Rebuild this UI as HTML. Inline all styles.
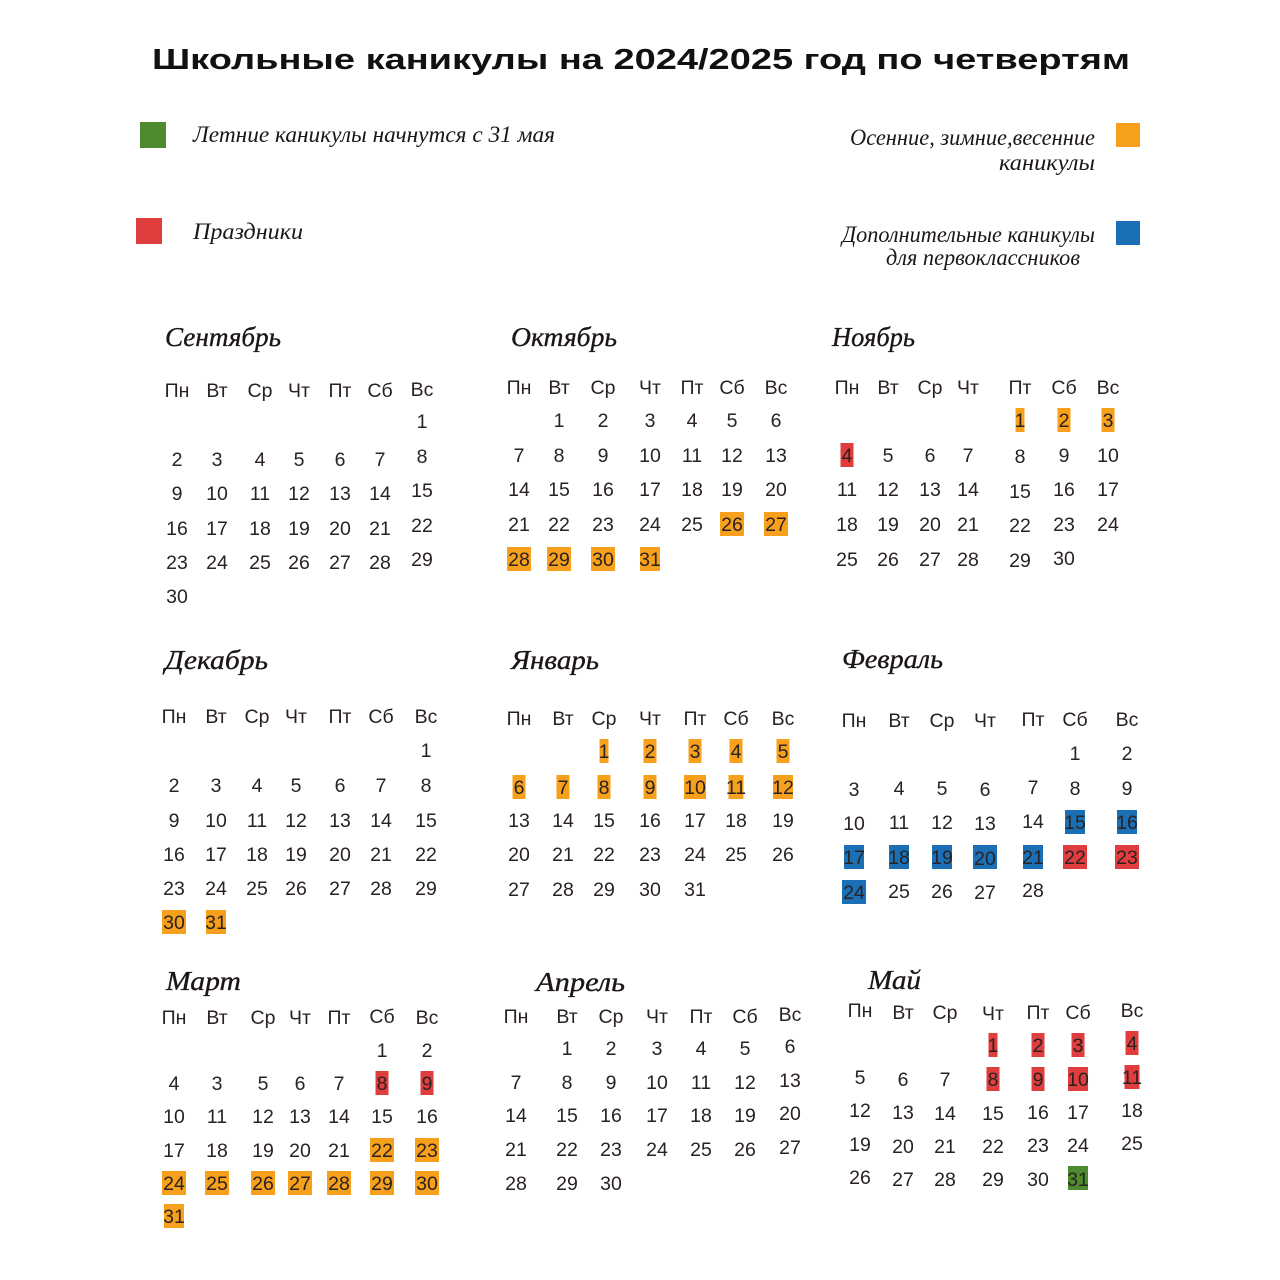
<!DOCTYPE html>
<html><head><meta charset="utf-8"><style>
html,body{margin:0;padding:0;background:#fff;}
svg{display:block;}
.t{font-family:"Liberation Sans","DejaVu Sans",sans-serif;font-size:19.5px;fill:#2a2222;text-anchor:middle;}
.m{font-family:"Liberation Serif","DejaVu Serif",serif;font-style:italic;font-size:27px;fill:#1c1616;stroke:#1c1616;stroke-width:0.35;}
.l{font-family:"Liberation Serif","DejaVu Serif",serif;font-style:italic;font-size:23px;fill:#1c1616;}
.ti{font-family:"Liberation Sans","DejaVu Sans",sans-serif;font-weight:bold;font-size:29px;fill:#111;}
.o{fill:#F7A01C}.r{fill:#E03E3E}.b{fill:#1A6FB5}.g{fill:#4E8A2E}
</style></head><body>
<svg width="1280" height="1280" viewBox="0 0 1280 1280" xmlns="http://www.w3.org/2000/svg">
<rect width="1280" height="1280" fill="#fff"/>
<text class="ti" x="152" y="69" textLength="978" lengthAdjust="spacingAndGlyphs">Школьные каникулы на 2024/2025 год по четвертям</text>

<!-- legend -->
<rect class="g" x="140" y="122" width="26" height="26"/>
<text class="l" x="193" y="142" textLength="362" lengthAdjust="spacingAndGlyphs">Летние каникулы начнутся с 31 мая</text>
<rect class="r" x="136" y="218" width="26" height="26"/>
<text class="l" x="193" y="239" textLength="110" lengthAdjust="spacingAndGlyphs">Праздники</text>
<rect class="o" x="1116" y="123" width="24" height="24"/>
<text class="l" x="850" y="145" textLength="245" lengthAdjust="spacingAndGlyphs">Осенние, зимние,весенние</text>
<text class="l" x="999" y="170" textLength="96" lengthAdjust="spacingAndGlyphs">каникулы</text>
<rect class="b" x="1116" y="221" width="24" height="24"/>
<text class="l" x="842" y="242" textLength="253" lengthAdjust="spacingAndGlyphs">Дополнительные каникулы</text>
<text class="l" x="886" y="265" textLength="194" lengthAdjust="spacingAndGlyphs">для первоклассников</text>

<!-- month names -->
<text class="m" x="165" y="346" textLength="116" lengthAdjust="spacingAndGlyphs">Сентябрь</text>
<text class="m" x="511" y="346" textLength="106" lengthAdjust="spacingAndGlyphs">Октябрь</text>
<text class="m" x="832" y="346" textLength="83" lengthAdjust="spacingAndGlyphs">Ноябрь</text>
<text class="m" x="165" y="669" textLength="103" lengthAdjust="spacingAndGlyphs">Декабрь</text>
<text class="m" x="511" y="669" textLength="88" lengthAdjust="spacingAndGlyphs">Январь</text>
<text class="m" x="842" y="668" textLength="101" lengthAdjust="spacingAndGlyphs">Февраль</text>
<text class="m" x="166" y="990" textLength="75" lengthAdjust="spacingAndGlyphs">Март</text>
<text class="m" x="536" y="991" textLength="89" lengthAdjust="spacingAndGlyphs">Апрель</text>
<text class="m" x="868" y="989" textLength="53" lengthAdjust="spacingAndGlyphs">Май</text>

<!-- highlight boxes -->
<!-- Oct -->
<rect class="o" x="720" y="512" width="24" height="24"/>
<rect class="o" x="764" y="512" width="24" height="24"/>
<rect class="o" x="507" y="547" width="24" height="24"/>
<rect class="o" x="547" y="547" width="24" height="24"/>
<rect class="o" x="591" y="547" width="24" height="24"/>
<rect class="o" x="640" y="547" width="20" height="24"/>
<!-- Nov -->
<rect class="o" x="1015.5" y="408" width="9" height="24"/>
<rect class="o" x="1057.5" y="408" width="13" height="24"/>
<rect class="o" x="1101.5" y="408" width="13" height="24"/>
<rect class="r" x="840.5" y="443" width="13" height="24"/>
<!-- Dec -->
<rect class="o" x="162" y="910" width="24" height="24"/>
<rect class="o" x="206" y="910" width="20" height="24"/>
<!-- Jan -->
<rect class="o" x="599.5" y="739" width="9" height="24"/>
<rect class="o" x="643.5" y="739" width="13" height="24"/>
<rect class="o" x="688.5" y="739" width="13" height="24"/>
<rect class="o" x="729.5" y="739" width="13" height="24"/>
<rect class="o" x="776.5" y="739" width="13" height="24"/>
<rect class="o" x="512.5" y="775" width="13" height="24"/>
<rect class="o" x="556.5" y="775" width="13" height="24"/>
<rect class="o" x="597.5" y="775" width="13" height="24"/>
<rect class="o" x="643.5" y="775" width="13" height="24"/>
<rect class="o" x="684" y="775" width="22" height="24"/>
<rect class="o" x="728.5" y="775" width="15" height="24"/>
<rect class="o" x="773" y="775" width="20" height="24"/>
<!-- Feb -->
<rect class="b" x="1065" y="810" width="20" height="24"/>
<rect class="b" x="1117" y="810" width="20" height="24"/>
<rect class="b" x="844" y="845" width="20" height="24"/>
<rect class="b" x="889" y="845" width="20" height="24"/>
<rect class="b" x="932" y="845" width="20" height="24"/>
<rect class="b" x="973" y="845" width="24" height="24"/>
<rect class="b" x="1023" y="845" width="20" height="24"/>
<rect class="r" x="1063" y="845" width="24" height="24"/>
<rect class="r" x="1115" y="845" width="24" height="24"/>
<rect class="b" x="842" y="880" width="24" height="24"/>
<!-- Mar -->
<rect class="r" x="375.5" y="1071" width="13" height="24"/>
<rect class="r" x="420.5" y="1071" width="13" height="24"/>
<rect class="o" x="370" y="1138" width="24" height="24"/>
<rect class="o" x="415" y="1138" width="24" height="24"/>
<rect class="o" x="162" y="1171" width="24" height="24"/>
<rect class="o" x="205" y="1171" width="24" height="24"/>
<rect class="o" x="251" y="1171" width="24" height="24"/>
<rect class="o" x="288" y="1171" width="24" height="24"/>
<rect class="o" x="327" y="1171" width="24" height="24"/>
<rect class="o" x="370" y="1171" width="24" height="24"/>
<rect class="o" x="415" y="1171" width="24" height="24"/>
<rect class="o" x="164" y="1204" width="20" height="24"/>
<!-- May -->
<rect class="r" x="988.5" y="1033" width="9" height="24"/>
<rect class="r" x="1031.5" y="1033" width="13" height="24"/>
<rect class="r" x="1071.5" y="1033" width="13" height="24"/>
<rect class="r" x="1125.5" y="1031" width="13" height="24"/>
<rect class="r" x="986.5" y="1067" width="13" height="24"/>
<rect class="r" x="1031.5" y="1067" width="13" height="24"/>
<rect class="r" x="1068" y="1067" width="20" height="24"/>
<rect class="r" x="1124.5" y="1065" width="15" height="24"/>
<rect class="g" x="1068" y="1166" width="20" height="24"/>

<!-- ===== September ===== -->
<g class="t">
<text x="177" y="397">Пн</text><text x="217" y="397">Вт</text><text x="260" y="397">Ср</text><text x="299" y="397">Чт</text><text x="340" y="397">Пт</text><text x="380" y="397">Сб</text><text x="422" y="396">Вс</text>
<text x="422" y="428">1</text>
<text x="177" y="466">2</text><text x="217" y="466">3</text><text x="260" y="466">4</text><text x="299" y="466">5</text><text x="340" y="466">6</text><text x="380" y="466">7</text><text x="422" y="463">8</text>
<text x="177" y="500">9</text><text x="217" y="500">10</text><text x="260" y="500">11</text><text x="299" y="500">12</text><text x="340" y="500">13</text><text x="380" y="500">14</text><text x="422" y="497">15</text>
<text x="177" y="535">16</text><text x="217" y="535">17</text><text x="260" y="535">18</text><text x="299" y="535">19</text><text x="340" y="535">20</text><text x="380" y="535">21</text><text x="422" y="532">22</text>
<text x="177" y="569">23</text><text x="217" y="569">24</text><text x="260" y="569">25</text><text x="299" y="569">26</text><text x="340" y="569">27</text><text x="380" y="569">28</text><text x="422" y="566">29</text>
<text x="177" y="603">30</text>
</g>

<!-- ===== October ===== -->
<g class="t">
<text x="519" y="394">Пн</text><text x="559" y="394">Вт</text><text x="603" y="394">Ср</text><text x="650" y="394">Чт</text><text x="692" y="394">Пт</text><text x="732" y="394">Сб</text><text x="776" y="394">Вс</text>
<text x="559" y="427">1</text><text x="603" y="427">2</text><text x="650" y="427">3</text><text x="692" y="427">4</text><text x="732" y="427">5</text><text x="776" y="427">6</text>
<text x="519" y="462">7</text><text x="559" y="462">8</text><text x="603" y="462">9</text><text x="650" y="462">10</text><text x="692" y="462">11</text><text x="732" y="462">12</text><text x="776" y="462">13</text>
<text x="519" y="496">14</text><text x="559" y="496">15</text><text x="603" y="496">16</text><text x="650" y="496">17</text><text x="692" y="496">18</text><text x="732" y="496">19</text><text x="776" y="496">20</text>
<text x="519" y="531">21</text><text x="559" y="531">22</text><text x="603" y="531">23</text><text x="650" y="531">24</text><text x="692" y="531">25</text><text x="732" y="531">26</text><text x="776" y="531">27</text>
<text x="519" y="566">28</text><text x="559" y="566">29</text><text x="603" y="566">30</text><text x="650" y="566">31</text>
</g>

<!-- ===== November ===== -->
<g class="t">
<text x="847" y="394">Пн</text><text x="888" y="394">Вт</text><text x="930" y="394">Ср</text><text x="968" y="394">Чт</text><text x="1020" y="394">Пт</text><text x="1064" y="394">Сб</text><text x="1108" y="394">Вс</text>
<text x="1020" y="427">1</text><text x="1064" y="427">2</text><text x="1108" y="427">3</text>
<text x="847" y="462">4</text><text x="888" y="462">5</text><text x="930" y="462">6</text><text x="968" y="462">7</text><text x="1020" y="463">8</text><text x="1064" y="462">9</text><text x="1108" y="462">10</text>
<text x="847" y="496">11</text><text x="888" y="496">12</text><text x="930" y="496">13</text><text x="968" y="496">14</text><text x="1020" y="498">15</text><text x="1064" y="496">16</text><text x="1108" y="496">17</text>
<text x="847" y="531">18</text><text x="888" y="531">19</text><text x="930" y="531">20</text><text x="968" y="531">21</text><text x="1020" y="532">22</text><text x="1064" y="531">23</text><text x="1108" y="531">24</text>
<text x="847" y="566">25</text><text x="888" y="566">26</text><text x="930" y="566">27</text><text x="968" y="566">28</text><text x="1020" y="567">29</text><text x="1064" y="565">30</text>
</g>

<!-- ===== December ===== -->
<g class="t">
<text x="174" y="723">Пн</text><text x="216" y="723">Вт</text><text x="257" y="723">Ср</text><text x="296" y="723">Чт</text><text x="340" y="723">Пт</text><text x="381" y="723">Сб</text><text x="426" y="723">Вс</text>
<text x="426" y="757">1</text>
<text x="174" y="792">2</text><text x="216" y="792">3</text><text x="257" y="792">4</text><text x="296" y="792">5</text><text x="340" y="792">6</text><text x="381" y="792">7</text><text x="426" y="792">8</text>
<text x="174" y="827">9</text><text x="216" y="827">10</text><text x="257" y="827">11</text><text x="296" y="827">12</text><text x="340" y="827">13</text><text x="381" y="827">14</text><text x="426" y="827">15</text>
<text x="174" y="861">16</text><text x="216" y="861">17</text><text x="257" y="861">18</text><text x="296" y="861">19</text><text x="340" y="861">20</text><text x="381" y="861">21</text><text x="426" y="861">22</text>
<text x="174" y="895">23</text><text x="216" y="895">24</text><text x="257" y="895">25</text><text x="296" y="895">26</text><text x="340" y="895">27</text><text x="381" y="895">28</text><text x="426" y="895">29</text>
<text x="174" y="929">30</text><text x="216" y="929">31</text>
</g>

<!-- ===== January ===== -->
<g class="t">
<text x="519" y="725">Пн</text><text x="563" y="725">Вт</text><text x="604" y="725">Ср</text><text x="650" y="725">Чт</text><text x="695" y="725">Пт</text><text x="736" y="725">Сб</text><text x="783" y="725">Вс</text>
<text x="604" y="758">1</text><text x="650" y="758">2</text><text x="695" y="758">3</text><text x="736" y="758">4</text><text x="783" y="758">5</text>
<text x="519" y="794">6</text><text x="563" y="794">7</text><text x="604" y="794">8</text><text x="650" y="794">9</text><text x="695" y="794">10</text><text x="736" y="794">11</text><text x="783" y="794">12</text>
<text x="519" y="827">13</text><text x="563" y="827">14</text><text x="604" y="827">15</text><text x="650" y="827">16</text><text x="695" y="827">17</text><text x="736" y="827">18</text><text x="783" y="827">19</text>
<text x="519" y="861">20</text><text x="563" y="861">21</text><text x="604" y="861">22</text><text x="650" y="861">23</text><text x="695" y="861">24</text><text x="736" y="861">25</text><text x="783" y="861">26</text>
<text x="519" y="896">27</text><text x="563" y="896">28</text><text x="604" y="896">29</text><text x="650" y="896">30</text><text x="695" y="896">31</text>
</g>

<!-- ===== February ===== -->
<g class="t">
<text x="854" y="727">Пн</text><text x="899" y="727">Вт</text><text x="942" y="727">Ср</text><text x="985" y="727">Чт</text><text x="1033" y="726">Пт</text><text x="1075" y="726">Сб</text><text x="1127" y="726">Вс</text>
<text x="1075" y="760">1</text><text x="1127" y="760">2</text>
<text x="854" y="796">3</text><text x="899" y="795">4</text><text x="942" y="795">5</text><text x="985" y="796">6</text><text x="1033" y="794">7</text><text x="1075" y="795">8</text><text x="1127" y="795">9</text>
<text x="854" y="830">10</text><text x="899" y="829">11</text><text x="942" y="829">12</text><text x="985" y="830">13</text><text x="1033" y="828">14</text><text x="1075" y="829">15</text><text x="1127" y="829">16</text>
<text x="854" y="864">17</text><text x="899" y="864">18</text><text x="942" y="864">19</text><text x="985" y="865">20</text><text x="1033" y="864">21</text><text x="1075" y="864">22</text><text x="1127" y="864">23</text>
<text x="854" y="899">24</text><text x="899" y="898">25</text><text x="942" y="898">26</text><text x="985" y="899">27</text><text x="1033" y="897">28</text>
</g>

<!-- ===== March ===== -->
<g class="t">
<text x="174" y="1024">Пн</text><text x="217" y="1024">Вт</text><text x="263" y="1024">Ср</text><text x="300" y="1024">Чт</text><text x="339" y="1024">Пт</text><text x="382" y="1023">Сб</text><text x="427" y="1024">Вс</text>
<text x="382" y="1057">1</text><text x="427" y="1057">2</text>
<text x="174" y="1090">4</text><text x="217" y="1090">3</text><text x="263" y="1090">5</text><text x="300" y="1090">6</text><text x="339" y="1090">7</text><text x="382" y="1090">8</text><text x="427" y="1090">9</text>
<text x="174" y="1123">10</text><text x="217" y="1123">11</text><text x="263" y="1123">12</text><text x="300" y="1123">13</text><text x="339" y="1123">14</text><text x="382" y="1123">15</text><text x="427" y="1123">16</text>
<text x="174" y="1157">17</text><text x="217" y="1157">18</text><text x="263" y="1157">19</text><text x="300" y="1157">20</text><text x="339" y="1157">21</text><text x="382" y="1157">22</text><text x="427" y="1157">23</text>
<text x="174" y="1190">24</text><text x="217" y="1190">25</text><text x="263" y="1190">26</text><text x="300" y="1190">27</text><text x="339" y="1190">28</text><text x="382" y="1190">29</text><text x="427" y="1190">30</text>
<text x="174" y="1223">31</text>
</g>

<!-- ===== April ===== -->
<g class="t">
<text x="516" y="1023">Пн</text><text x="567" y="1023">Вт</text><text x="611" y="1023">Ср</text><text x="657" y="1023">Чт</text><text x="701" y="1023">Пт</text><text x="745" y="1023">Сб</text><text x="790" y="1021">Вс</text>
<text x="567" y="1055">1</text><text x="611" y="1055">2</text><text x="657" y="1055">3</text><text x="701" y="1055">4</text><text x="745" y="1055">5</text><text x="790" y="1053">6</text>
<text x="516" y="1089">7</text><text x="567" y="1089">8</text><text x="611" y="1089">9</text><text x="657" y="1089">10</text><text x="701" y="1089">11</text><text x="745" y="1089">12</text><text x="790" y="1087">13</text>
<text x="516" y="1122">14</text><text x="567" y="1122">15</text><text x="611" y="1122">16</text><text x="657" y="1122">17</text><text x="701" y="1122">18</text><text x="745" y="1122">19</text><text x="790" y="1120">20</text>
<text x="516" y="1156">21</text><text x="567" y="1156">22</text><text x="611" y="1156">23</text><text x="657" y="1156">24</text><text x="701" y="1156">25</text><text x="745" y="1156">26</text><text x="790" y="1154">27</text>
<text x="516" y="1190">28</text><text x="567" y="1190">29</text><text x="611" y="1190">30</text>
</g>

<!-- ===== May ===== -->
<g class="t">
<text x="860" y="1017">Пн</text><text x="903" y="1019">Вт</text><text x="945" y="1019">Ср</text><text x="993" y="1020">Чт</text><text x="1038" y="1019">Пт</text><text x="1078" y="1019">Сб</text><text x="1132" y="1017">Вс</text>
<text x="993" y="1052">1</text><text x="1038" y="1052">2</text><text x="1078" y="1052">3</text><text x="1132" y="1050">4</text>
<text x="860" y="1084">5</text><text x="903" y="1086">6</text><text x="945" y="1086">7</text><text x="993" y="1086">8</text><text x="1038" y="1086">9</text><text x="1078" y="1086">10</text><text x="1132" y="1084">11</text>
<text x="860" y="1117">12</text><text x="903" y="1119">13</text><text x="945" y="1120">14</text><text x="993" y="1120">15</text><text x="1038" y="1119">16</text><text x="1078" y="1119">17</text><text x="1132" y="1117">18</text>
<text x="860" y="1151">19</text><text x="903" y="1153">20</text><text x="945" y="1153">21</text><text x="993" y="1153">22</text><text x="1038" y="1152">23</text><text x="1078" y="1152">24</text><text x="1132" y="1150">25</text>
<text x="860" y="1184">26</text><text x="903" y="1186">27</text><text x="945" y="1186">28</text><text x="993" y="1186">29</text><text x="1038" y="1186">30</text><text x="1078" y="1186">31</text>
</g>
</svg>
</body></html>
